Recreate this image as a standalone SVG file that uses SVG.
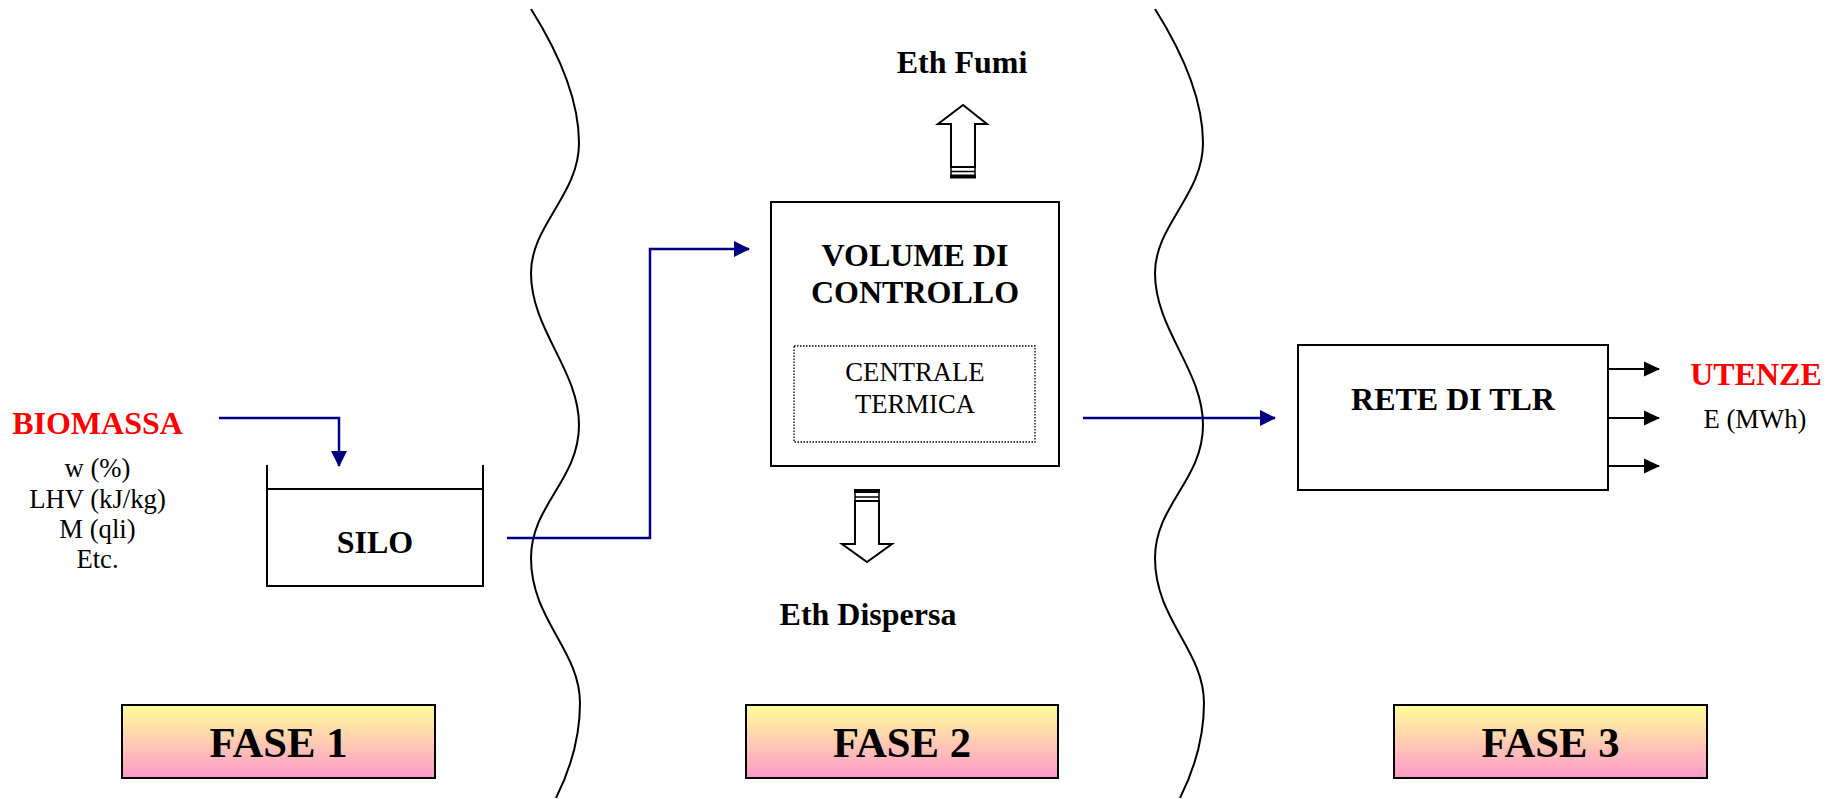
<svg xmlns="http://www.w3.org/2000/svg" width="1836" height="799" viewBox="0 0 1836 799">
  <defs>
    <linearGradient id="faseFill" x1="0" y1="0" x2="0" y2="1">
      <stop offset="0" stop-color="#FFFF99"/>
      <stop offset="1" stop-color="#FF99CC"/>
    </linearGradient>
    <marker id="navyHead" markerUnits="userSpaceOnUse" markerWidth="16" markerHeight="16" viewBox="0 0 16 16" refX="15" refY="8" orient="auto">
      <path d="M0,0 L16,8 L0,16 z" fill="#000080"/>
    </marker>
    <marker id="blackHead" markerUnits="userSpaceOnUse" markerWidth="16" markerHeight="16" viewBox="0 0 16 16" refX="15" refY="8" orient="auto">
      <path d="M0,0.5 L16,8 L0,15.5 z" fill="#000"/>
    </marker>
  </defs>
  <style>
    .bold { font-family: "Liberation Serif", "Times New Roman", serif; font-weight: bold; font-size: 32px; text-anchor: middle; fill: #000; }
    .reg { font-family: "Liberation Serif", "Times New Roman", serif; font-size: 26.7px; text-anchor: middle; fill: #000; }
    .red { fill: #FF0000; }
    .fase { font-family: "Liberation Serif", "Times New Roman", serif; font-weight: bold; font-size: 42.7px; text-anchor: middle; fill: #000; }
    .box { fill: #fff; stroke: #000; stroke-width: 2; }
    .wave { fill: none; stroke: #000; stroke-width: 2; }
    .flow { fill: none; stroke: #000080; stroke-width: 2.5; marker-end: url(#navyHead); }
    .out { fill: none; stroke: #000; stroke-width: 2; marker-end: url(#blackHead); }
    .block { fill: #fff; stroke: #000; stroke-width: 2; stroke-linejoin: miter; }
  </style>

  <rect width="1836" height="799" fill="#fff"/>

  <!-- phase boundaries -->
  <g id="boundaries">
    <path id="wave1" class="wave" d="M531,9 C560,55 579,100 579,143 C579,195 531,225 531,273 C531,330 579,370 579,425 C579,480 531,505 531,558 C531,620 580,650 580,703 C580,745 566,778 556,798"/>
    <use href="#wave1" transform="translate(624,0)"/>
  </g>

  <!-- biomass input -->
  <g id="biomassa">
    <text class="bold red" x="97.5" y="434">BIOMASSA</text>
    <text class="reg" x="97.5" y="477">w (%)</text>
    <text class="reg" x="97.5" y="508">LHV (kJ/kg)</text>
    <text class="reg" x="97.5" y="538">M (qli)</text>
    <text class="reg" x="97.5" y="568">Etc.</text>
  </g>

  <!-- storage silo -->
  <g id="silo">
    <path d="M267,465 L267,586 L483,586 L483,465 M267,489 L483,489" fill="none" stroke="#000" stroke-width="2"/>
    <text class="bold" x="375" y="553">SILO</text>
  </g>

  <!-- control volume with the heating plant -->
  <g id="volume-controllo">
    <rect class="box" x="771" y="202" width="288" height="264"/>
    <text class="bold" x="915" y="266">VOLUME DI</text>
    <text class="bold" x="915" y="303">CONTROLLO</text>
    <g id="centrale-termica">
      <rect x="794" y="346" width="241" height="96" fill="none" stroke="#000" stroke-width="1.3" stroke-dasharray="1.5,1.5"/>
      <text class="reg" x="915" y="381">CENTRALE</text>
      <text class="reg" x="915" y="413">TERMICA</text>
    </g>
  </g>

  <!-- flue gas loss -->
  <g id="eth-fumi">
    <text class="bold" x="962" y="73">Eth Fumi</text>
    <polygon class="block" points="951,167 951,124 938,124 963,105 987,124 975,124 975,167"/>
    <path d="M951,167 L951,178 M975,167 L975,178 M951,171.5 L975,171.5" stroke="#000" stroke-width="1.5" fill="none"/>
    <rect x="950" y="174.5" width="26" height="4" fill="#000"/>
  </g>

  <!-- dispersed heat loss -->
  <g id="eth-dispersa">
    <rect x="854" y="489" width="26" height="4" fill="#000"/>
    <path d="M855,493 L855,501 M879,493 L879,501 M855,497 L879,497" stroke="#000" stroke-width="1.5" fill="none"/>
    <polygon class="block" points="855,501 855,544 842,544 867,562 892,544 879,544 879,501"/>
    <text class="bold" x="868" y="625">Eth Dispersa</text>
  </g>

  <!-- district heating network -->
  <g id="rete-tlr">
    <rect class="box" x="1298" y="345" width="310" height="145"/>
    <text class="bold" x="1453" y="410">RETE DI TLR</text>
  </g>

  <!-- end users -->
  <g id="utenze">
    <text class="bold red" x="1756" y="385">UTENZE</text>
    <text class="reg" x="1755" y="428">E (MWh)</text>
  </g>

  <!-- flows -->
  <g id="connectors">
    <path class="flow" d="M219,418 L339,418 L339,466"/>
    <path class="flow" d="M507,538 L650,538 L650,249 L749,249"/>
    <path class="flow" d="M1083,418 L1275,418"/>
    <path class="out" d="M1608,369 L1659,369"/>
    <path class="out" d="M1608,418 L1659,418"/>
    <path class="out" d="M1608,466 L1659,466"/>
  </g>

  <!-- phase labels -->
  <g id="fase-1">
    <rect x="122" y="705" width="313" height="73" fill="url(#faseFill)" stroke="#000" stroke-width="2"/>
    <text class="fase" x="278.5" y="757">FASE 1</text>
  </g>
  <g id="fase-2">
    <rect x="746" y="705" width="312" height="73" fill="url(#faseFill)" stroke="#000" stroke-width="2"/>
    <text class="fase" x="902" y="757">FASE 2</text>
  </g>
  <g id="fase-3">
    <rect x="1394" y="705" width="313" height="73" fill="url(#faseFill)" stroke="#000" stroke-width="2"/>
    <text class="fase" x="1550.5" y="757">FASE 3</text>
  </g>
</svg>
